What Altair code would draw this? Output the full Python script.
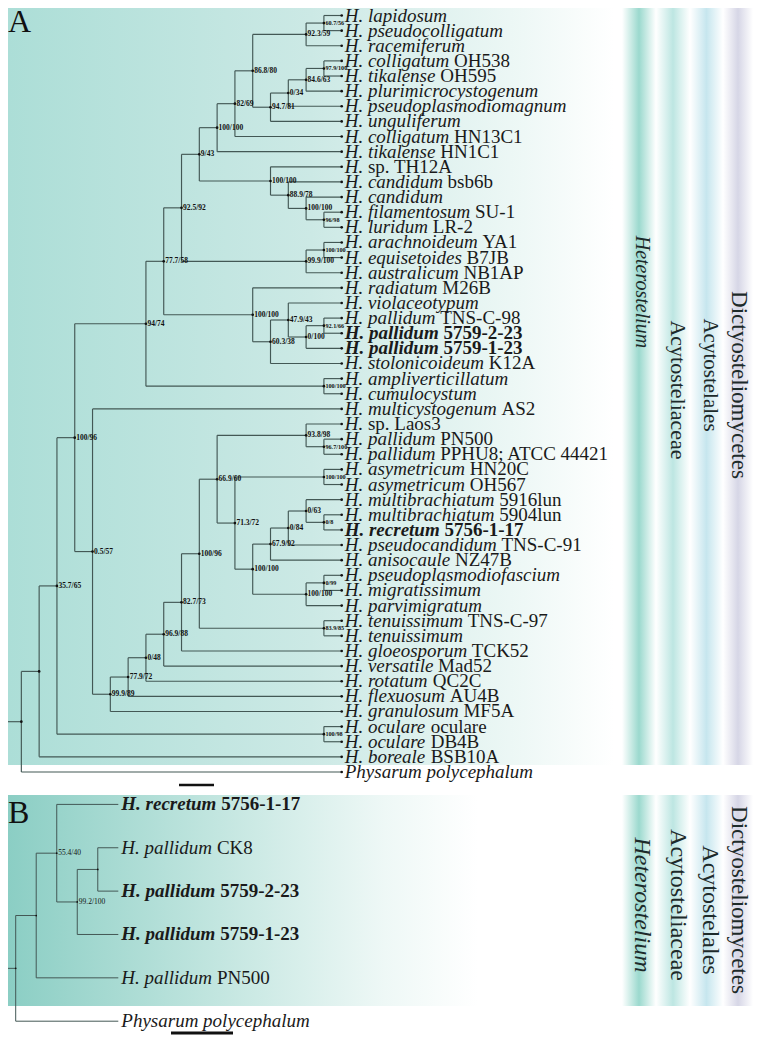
import altair as alt
import pandas as pd

# ---------------- data: panel A ----------------
A_species = [
    "H. lapidosum", "H. pseudocolligatum", "H. racemiferum", "H. colligatum", "H. tikalense",
    "H. plurimicrocystogenum", "H. pseudoplasmodiomagnum", "H. unguliferum", "H. colligatum", "H. tikalense",
    "H.", "H. candidum", "H. candidum", "H. filamentosum", "H. luridum",
    "H. arachnoideum", "H. equisetoides", "H. australicum", "H. radiatum", "H. violaceotypum",
    "H. pallidum", "H. pallidum", "H. pallidum", "H. stolonicoideum", "H. ampliverticillatum",
    "H. cumulocystum", "H. multicystogenum", "H.", "H. pallidum", "H. pallidum",
    "H. asymetricum", "H. asymetricum", "H. multibrachiatum", "H. multibrachiatum", "H. recretum",
    "H. pseudocandidum", "H. anisocaule", "H. pseudoplasmodiofascium", "H. migratissimum", "H. parvimigratum",
    "H. tenuissimum", "H. tenuissimum", "H. gloeosporum", "H. versatile", "H. rotatum",
    "H. flexuosum", "H. granulosum", "H. oculare", "H. oculare", "H. boreale",
    "Physarum polycephalum"]
A_strain = [
    "", "", "", "OH538", "OH595",
    "", "", "", "HN13C1", "HN1C1",
    "sp. TH12A", "bsb6b", "", "SU-1", "LR-2",
    "YA1", "B7JB", "NB1AP", "M26B", "",
    "TNS-C-98", "5759-2-23", "5759-1-23", "K12A", "",
    "", "AS2", "sp. Laos3", "PN500", "PPHU8; ATCC 44421",
    "HN20C", "OH567", "5916lun", "5904lun", "5756-1-17",
    "TNS-C-91", "NZ47B", "", "", "",
    "TNS-C-97", "", "TCK52", "Mad52", "QC2C",
    "AU4B", "MF5A", "oculare", "DB4B", "BSB10A",
    ""]
A_bold = [22, 23, 35]
# (node, child 1, child 2, depth level, support)
A_nodes = [
    ("a1", 1, 2, 17, "60.7/56"), ("a2", "a1", 3, 16, "92.3/59"),
    ("a3", 4, 5, 17, "97.9/100"), ("a4", "a3", 6, 16, "84.6/63"),
    ("a5", "a4", 7, 15, "0/34"), ("a6", "a5", 8, 14, "94.7/81"),
    ("a7", "a2", "a6", 13, "86.8/80"), ("a8", "a7", 9, 12, "82/69"),
    ("a9", "a8", 10, 11, "100/100"), ("a10", 14, 15, 17, "96/98"),
    ("a11", 13, "a10", 16, "100/100"), ("a12", 12, "a11", 15, "88.9/78"),
    ("a13", 11, "a12", 14, "100/100"), ("a14", "a9", "a13", 10, "9/43"),
    ("a15", 16, 17, 17, "100/100"), ("a16", "a15", 18, 16, "99.9/100"),
    ("a17", "a14", "a16", 9, "92.5/92"), ("a18", 21, 22, 17, "92.1/66"),
    ("a19", "a18", 23, 16, "0/100"), ("a20", 20, "a19", 15, "47.9/43"),
    ("a21", "a20", 24, 14, "60.3/38"), ("a22", 19, "a21", 13, "100/100"),
    ("a23", "a17", "a22", 8, "77.7/58"), ("a24", 25, 26, 17, "100/100"),
    ("a25", "a23", "a24", 7, "94/74"), ("a26", 29, 30, 17, "96.7/100"),
    ("a27", 28, "a26", 16, "93.8/98"), ("a28", 31, 32, 17, "100/100"),
    ("a29", 34, 35, 17, "0/8"), ("a30", 33, "a29", 16, "0/63"),
    ("a31", "a30", 36, 15, "0/84"), ("a32", "a31", 37, 14, "67.9/92"),
    ("a33", 38, 39, 17, "0/99"), ("a34", "a33", 40, 16, "100/100"),
    ("a35", "a32", "a34", 13, "100/100"), ("a36", "a28", "a35", 12, "71.3/72"),
    ("a37", "a27", "a36", 11, "66.9/60"), ("a38", 41, 42, 17, "83.9/85"),
    ("a39", "a37", "a38", 10, "100/96"), ("a40", "a39", 43, 9, "82.7/73"),
    ("a41", "a40", 44, 8, "96.9/88"), ("a42", "a41", 45, 7, "0/48"),
    ("a43", "a42", 46, 6, "77.9/72"), ("a44", "a43", 47, 5, "99.9/89"),
    ("a45", 27, "a44", 4, "0.5/57"), ("a46", "a25", "a45", 3, "100/96"),
    ("a47", 48, 49, 17, "100/98"), ("a48", "a46", "a47", 2, "35.7/65"),
    ("a49", "a48", 50, 1, ""), ("a50", "a49", 51, 0, ""),
]

# ---------------- data: panel B ----------------
B_species = ["H. recretum", "H. pallidum", "H. pallidum", "H. pallidum", "H. pallidum",
             "Physarum polycephalum"]
B_strain = ["5756-1-17", "CK8", "5759-2-23", "5759-1-23", "PN500", ""]
B_bold = [1, 3, 4]
B_nodes = [
    ("b1", 2, 3, 4, ""), ("b2", "b1", 4, 3, "99.2/100"),
    ("b3", 1, "b2", 2, "55.4/40"), ("b4", "b3", 5, 1, ""), ("b5", "b4", 6, 0, ""),
]

RANKS = ["Heterostelium", "Acytosteliaceae", "Acytostelales", "Dictyosteliomycetes"]
PANELS = ["A", "B"]

# ---------------- styling / layout ----------------
SERIF = "Liberation Serif"
W, H = 745, 1027
LINE = "#435855"
TIP_DX = 3
LABEL_FS = 19

ITALIC_W = dict(zip("abcdefghijklmnopqrstuvwxyz",
                    [500, 500, 444, 500, 444, 278, 500, 500, 278, 278, 444, 278, 722,
                     500, 500, 500, 500, 389, 389, 278, 500, 444, 667, 444, 444, 389]))
ITALIC_W.update({"H": 722, ".": 250, " ": 250, "P": 611})
BOLDIT_W = dict(zip("abcdefghijklmnopqrstuvwxyz",
                    [500, 500, 444, 500, 444, 333, 500, 556, 278, 278, 500, 278, 778,
                     556, 500, 500, 500, 389, 389, 278, 556, 444, 667, 500, 444, 389]))
BOLDIT_W.update({"H": 778, ".": 250, " ": 250})


def text_w(s, table, size):
    return sum(table.get(c, 500) for c in s) / 1000.0 * size


def build(species, strain, bold, nodes, leaf_level, x_min, px_per_level, small_fs, big_fs):
    X, Y = {}, {}
    for i in range(len(species)):
        X[i + 1] = leaf_level
        Y[i + 1] = float(i + 1)
    segs, nrows = [], []
    for nid, a, b, lvl, lab in nodes:
        X[nid] = lvl
        Y[nid] = (Y[a] + Y[b]) / 2.0
        segs.append(dict(x=lvl, x2=lvl, y=Y[a], y2=Y[b]))
        for c in (a, b):
            segs.append(dict(x=lvl, x2=X[c], y=Y[c], y2=Y[c]))
        nrows.append(dict(x=lvl, y=Y[nid], label=lab,
                          fs=small_fs if lvl == leaf_level - 1 else big_fs))
    root = nodes[-1][0]
    segs.append(dict(x=x_min, x2=X[root], y=Y[root], y2=Y[root]))
    tips = []
    for i in range(len(species)):
        isb = (i + 1) in bold
        w = text_w(species[i] + " ", BOLDIT_W if isb else ITALIC_W, LABEL_FS)
        tips.append(dict(x=leaf_level, y=float(i + 1), sp=species[i], st=strain[i],
                         bold=isb, sx=leaf_level + (TIP_DX + w) / px_per_level))
    return pd.DataFrame(segs), pd.DataFrame(nrows), pd.DataFrame(tips)


def tree_layers(tr, xs, ys, lw, tip_dots, node_dot_size, label_weight):
    segs, nodes, tips = tr
    X = lambda f: alt.X(f, type="quantitative", scale=xs, axis=None)
    Y = lambda f: alt.Y(f, type="quantitative", scale=ys, axis=None)
    layers = [
        alt.Chart(segs).mark_rule(color=LINE, strokeWidth=lw).encode(
            x=X("x"), x2="x2", y=Y("y"), y2="y2"),
        alt.Chart(nodes).mark_circle(size=node_dot_size, color="#111", opacity=1).encode(
            x=X("x"), y=Y("y")),
    ]
    if tip_dots:
        layers.append(alt.Chart(tips).mark_circle(size=node_dot_size, color="#111", opacity=1).encode(
            x=X("x"), y=Y("y")))
    layers.append(
        alt.Chart(nodes).mark_text(align="left", baseline="middle", dx=1.5, font=SERIF,
                                   fontWeight=label_weight, color="#111").encode(
            x=X("x"), y=Y("y"), text="label:N", size=alt.Size("fs:Q", scale=None)))
    for isb in (False, True):
        sub = tips[tips["bold"] == isb]
        wt = "bold" if isb else "normal"
        layers.append(alt.Chart(sub).mark_text(
            align="left", baseline="middle", dx=TIP_DX, font=SERIF, fontStyle="italic",
            fontWeight=wt, fontSize=LABEL_FS, color="#1a1a1a").encode(
            x=X("x"), y=Y("y"), text="sp:N"))
        layers.append(alt.Chart(sub).mark_text(
            align="left", baseline="middle", font=SERIF, fontWeight=wt,
            fontSize=LABEL_FS, color="#1a1a1a").encode(
            x=X("sx"), y=Y("y"), text="st:N"))
    return layers


one = pd.DataFrame({"k": [0]})


def hgrad(stops):
    return alt.LinearGradient(gradient="linear", x1=0, x2=1, y1=0, y2=0,
                              stops=[alt.GradientStop(offset=o, color=c) for o, c in stops])


def rect(x0, x1, y0, y1, fill):
    return alt.Chart(one).mark_rect(fill=fill).encode(
        x=alt.value(x0), x2=alt.value(x1), y=alt.value(y0), y2=alt.value(y1))


def label(txt, x, y, size, angle=0, italic=False, baseline="middle", align="center", color="#222"):
    kw = dict(font=SERIF, fontSize=size, align=align, baseline=baseline, color=color,
              fontStyle="italic" if italic else "normal")
    if angle:
        kw["angle"] = angle
    return alt.Chart(one).mark_text(text=txt, **kw).encode(x=alt.value(x), y=alt.value(y))


STRIPE_EDGES = [614, 648, 682, 715, 745]
STRIPE_COLORS = ["#9bd9ce", "#bde6e2", "#c6e6ee", "#d6d6e6"]
RANK_X = [634, 670, 702, 731]


def bands(y0, y1, centers_y, sizes):
    out = []
    for i, c in enumerate(STRIPE_COLORS):
        out.append(rect(STRIPE_EDGES[i], STRIPE_EDGES[i + 1], y0, y1,
                        hgrad([(0, "#ffffff"), (0.5, c), (1, "#ffffff")])))
    for i, name in enumerate(RANKS):
        out.append(label(name, RANK_X[i], centers_y[i], sizes[i], angle=90,
                         italic=(name == "Heterostelium"), color="#1d2a2a"))
    return out


# ---- panel A ----
trA = build(A_species, A_strain, A_bold, A_nodes, 18, -0.75, 17.8, 6.2, 7.5)
xsA = alt.Scale(domain=[-0.75, 18], range=[0, 333.7])
ysA = alt.Scale(domain=[1, 51], range=[7.5, 764])

# ---- panel B ----
trB = build(B_species, B_strain, B_bold, B_nodes, 5, -0.375, 20.5, 7.5, 7.5)
xsB = alt.Scale(domain=[-0.375, 5], range=[0, 110.3])
ysB = alt.Scale(domain=[1, 6], range=[796.4, 1013.2])

layers = []
layers.append(rect(0, 606, 0, 757, hgrad([(0, "#acded7"), (0.5, "#cce9e5"),
                                         (0.85, "#eef8f6"), (1, "#ffffff")])))
layers.append(rect(0, 470, 787, 998, hgrad([(0, "#8bcec4"), (0.45, "#c3e6e0"),
                                           (0.8, "#eef8f6"), (1, "#ffffff")])))
layers += bands(0, 757, [284, 382, 367, 377], [20, 22, 21, 23])
layers += bands(787, 998, [897, 897, 902, 892], [24, 24, 24, 23])
layers.append(label(PANELS[0], 0, 24, 32, baseline="alphabetic", align="left", color="#111"))
layers.append(label(PANELS[1], 0, 815, 32, baseline="alphabetic", align="left", color="#111"))
layers.append(alt.Chart(one).mark_rule(color="#111", strokeWidth=2.5).encode(
    x=alt.value(171), x2=alt.value(206), y=alt.value(777)))
layers.append(alt.Chart(one).mark_rule(color="#111", strokeWidth=3).encode(
    x=alt.value(163), x2=alt.value(225), y=alt.value(1025)))
layers += tree_layers(trA, xsA, ysA, 1.15, True, 7, "bold")
layers += tree_layers(trB, xsB, ysB, 1.0, False, 3, "normal")

chart = alt.layer(*layers).resolve_scale(x="independent", y="independent").properties(
    width=W, height=H, padding=0, autosize=alt.AutoSizeParams(type="none"),
    background="white").configure_view(stroke=None)

chart.save("out.html", embed_options={"renderer": "svg", "actions": False})
